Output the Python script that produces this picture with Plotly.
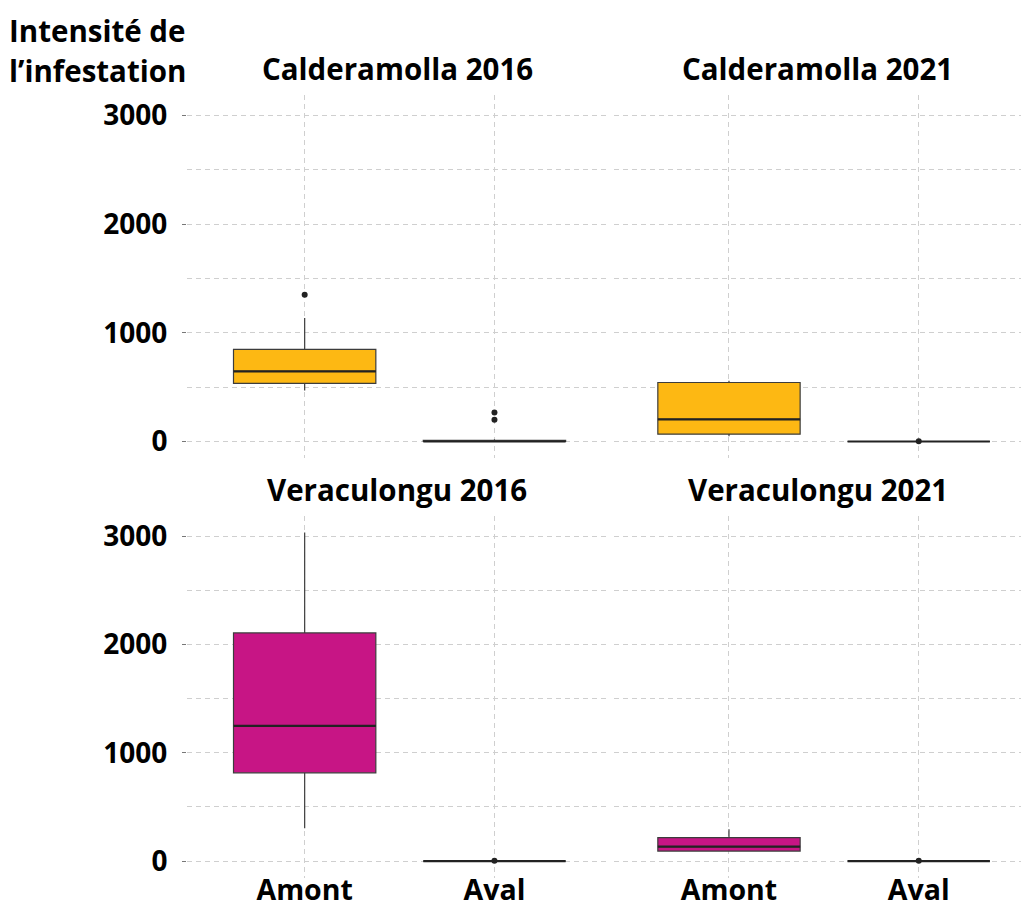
import plotly.graph_objects as go

# Facets and categories
panels = ["Calderamolla 2016", "Calderamolla 2021", "Veraculongu 2016", "Veraculongu 2021"]
sites = ["Amont", "Aval"]
panel_colors = ["#FDB813", "#FDB813", "#C71585", "#C71585"]

# Box statistics per panel (Amont, Aval)
q1 = [[534, 0], [67, 0], [815, 0], [92, 0]]
median = [[645, 0], [203, 0], [1250, 0], [134, 0]]
q3 = [[848, 10], [543, 0], [2108, 0], [217, 0]]
lower_fence = [[469, 0], [49, 0], [304, 0], [88, 0]]
upper_fence = [[1136, 20], [560, 0], [3037, 0], [295, 0]]

# Outlying observations per panel (Amont, Aval)
outliers = [[[1350], [199, 267]], [[], [3]], [[], [3]], [[], [3]]]

y_ticks = [0, 1000, 2000, 3000]

W, H = 1021, 908
BOX_WIDTH = 0.75
FONT = "Open Sans"

# Panel placement (pixels): left, right, x-range; rows: top, bottom
cols = [(187, 607, -0.62, 1.593), (614, 1021, -0.606, 1.539)]
rows = [(95, 458), (516, 877.5)]
y_range = [-152, 3189]

fig = go.Figure()
grid = dict(showgrid=True, gridcolor="#cfcfcf", griddash="5px,4px", gridwidth=1,
            zeroline=False, showline=False, automargin=False)

for p, name in enumerate(panels):
    r, c = divmod(p, 2)
    xl, xr, rx0, rx1 = cols[c]
    yt, yb = rows[r]
    n = p + 1
    xa = "x" if n == 1 else f"x{n}"
    ya = "y" if n == 1 else f"y{n}"

    fig.add_trace(go.Box(
        x=[0, 1], q1=q1[p], median=median[p], q3=q3[p],
        lowerfence=lower_fence[p], upperfence=upper_fence[p],
        width=BOX_WIDTH, fillcolor=panel_colors[p],
        line=dict(color="#3c3c3c", width=1.2), whiskerwidth=0,
        boxpoints=False, showlegend=False, xaxis=xa, yaxis=ya,
        hoverinfo="skip",
    ))
    # heavier median bars
    for i in range(len(sites)):
        fig.add_trace(go.Scatter(
            x=[i - BOX_WIDTH / 2, i + BOX_WIDTH / 2], y=[median[p][i]] * 2,
            mode="lines", line=dict(color="#222222", width=2.2),
            showlegend=False, xaxis=xa, yaxis=ya, hoverinfo="skip",
        ))
        if outliers[p][i]:
            fig.add_trace(go.Scatter(
                x=[i] * len(outliers[p][i]), y=outliers[p][i], mode="markers",
                marker=dict(color="#222222", size=6),
                showlegend=False, xaxis=xa, yaxis=ya, hoverinfo="skip",
            ))

    show_x = r == 1
    show_y = c == 0
    fig.layout[f"xaxis{'' if n == 1 else n}"] = dict(
        domain=[xl / W, xr / W], range=[rx0, rx1], anchor=ya,
        tickmode="array", tickvals=[0, 1], ticktext=sites if show_x else ["", ""],
        showticklabels=show_x, ticks="",
        tickfont=dict(family=FONT, size=28.5, color="black", weight="bold"),
        ticklabelstandoff=-7, **grid,
    )
    fig.layout[f"yaxis{'' if n == 1 else n}"] = dict(
        domain=[1 - yb / H, 1 - yt / H], range=y_range, anchor=xa,
        tickmode="array", tickvals=y_ticks,
        ticktext=[str(v) for v in y_ticks] if show_y else [""] * len(y_ticks),
        showticklabels=show_y,
        ticks="outside" if show_y else "", ticklen=4, tickcolor="#777777",
        tickfont=dict(family=FONT, size=28, color="black", weight="bold"),
        ticklabelstandoff=9,
        minor=dict(dtick=500, tick0=0, showgrid=True, gridcolor="#cfcfcf",
                   griddash="5px,4px", ticks=""),
        **grid,
    )
    fig.add_annotation(
        text=name, x=(xl + xr) / 2 / W, y=1 - (yt - 27) / H, xref="paper", yref="paper",
        xanchor="center", yanchor="middle", showarrow=False,
        font=dict(family=FONT, size=29.5, color="black", weight="bold"),
    )

for line, ypx in [("Intensité de", 30), ("l’infestation", 70)]:
    fig.add_annotation(
        text=line, x=97 / W, y=1 - ypx / H, xref="paper", yref="paper",
        xanchor="center", yanchor="middle", showarrow=False,
        font=dict(family=FONT, size=29.5, color="black", weight="bold"),
    )

fig.update_layout(
    width=W, height=H, margin=dict(l=0, r=0, t=0, b=0, autoexpand=False),
    paper_bgcolor="white", plot_bgcolor="white", showlegend=False,
)

fig.write_html("out.html")
